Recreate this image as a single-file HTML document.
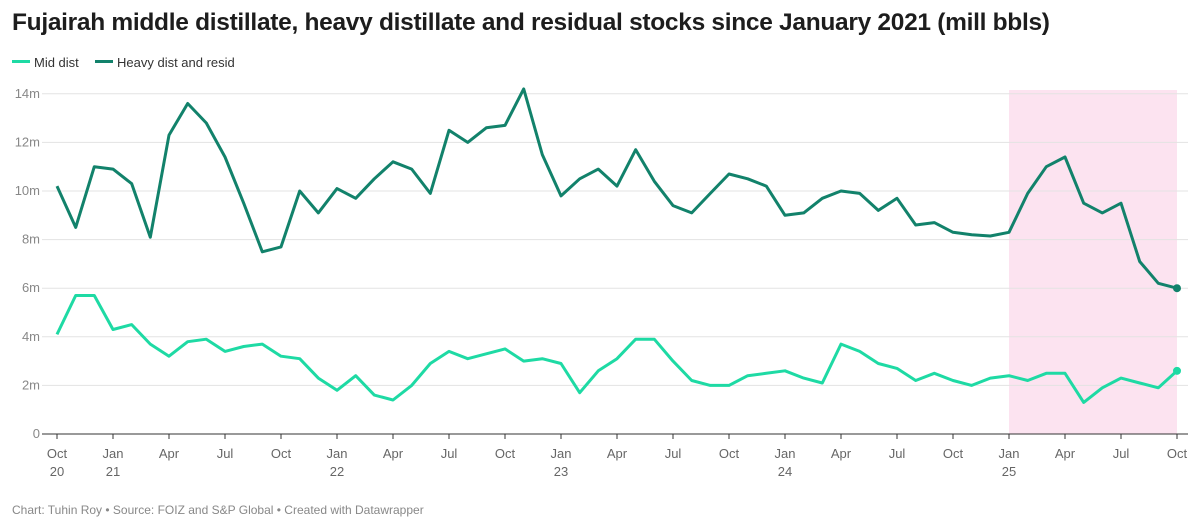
<!DOCTYPE html>
<html><head><meta charset="utf-8"><style>
body{margin:0;background:#fff;font-family:"Liberation Sans",Arial,sans-serif;}
#w{position:relative;width:1200px;height:530px;overflow:hidden}
.t{position:absolute;left:12px;top:9px;font-size:24.5px;font-weight:bold;color:#1d1d1d;letter-spacing:-0.3px}
.f{position:absolute;left:12px;top:503px;font-size:12px;color:#888}
</style></head><body><div id="w">
<div class="t">Fujairah middle distillate, heavy distillate and residual stocks since January 2021 (mill bbls)</div>
<svg id="s" width="1200" height="530" style="position:absolute;left:0;top:0"></svg>
<div class="f">Chart: Tuhin Roy • Source: FOIZ and S&amp;P Global • Created with Datawrapper</div>
</div>
<script>
var H=[10.2,8.5,11.0,10.9,10.3,8.1,12.3,13.6,12.8,11.4,9.5,7.5,7.7,10.0,9.1,10.1,9.7,10.5,11.2,10.9,9.9,12.5,12.0,12.6,12.7,14.2,11.5,9.8,10.5,10.9,10.2,11.7,10.4,9.4,9.1,9.9,10.7,10.5,10.2,9.0,9.1,9.7,10.0,9.9,9.2,9.7,8.6,8.7,8.3,8.2,8.15,8.3,9.9,11.0,11.4,9.5,9.1,9.5,7.1,6.2,6.0];
var M=[4.1,5.7,5.7,4.3,4.5,3.7,3.2,3.8,3.9,3.4,3.6,3.7,3.2,3.1,2.3,1.8,2.4,1.6,1.4,2.0,2.9,3.4,3.1,3.3,3.5,3.0,3.1,2.9,1.7,2.6,3.1,3.9,3.9,3.0,2.2,2.0,2.0,2.4,2.5,2.6,2.3,2.1,3.7,3.4,2.9,2.7,2.2,2.5,2.2,2.0,2.3,2.4,2.2,2.5,2.5,1.3,1.9,2.3,2.1,1.9,2.6];
function X(i){return 57+i*1120/60}function Y(v){return 434-v*24.3}
var s='<rect x="1009" y="90" width="168" height="344" fill="#fce3f0"/>';
for(var k=1;k<=7;k++){var y=Y(2*k);s+='<line x1="42" x2="1188" y1="'+y+'" y2="'+y+'" stroke="#e3e3e3"/>';s+='<text x="40" y="'+(y+4)+'" font-size="13" fill="#888" text-anchor="end">'+(2*k)+'m</text>';}
s+='<text x="40" y="438" font-size="13" fill="#888" text-anchor="end">0</text>';
s+='<line x1="42" x2="1188" y1="434" y2="434" stroke="#333"/>';
var lab=['Oct','Jan','Apr','Jul'];
for(var i=0;i<=60;i+=3){var x=X(i);s+='<line x1="'+x+'" x2="'+x+'" y1="434" y2="439" stroke="#333"/>';var m=lab[(i/3)%4];s+='<text x="'+x+'" y="458" font-size="13" fill="#666" text-anchor="middle">'+m+'</text>';
if(i==0)s+='<text x="'+x+'" y="476" font-size="13" fill="#666" text-anchor="middle">20</text>';
if(m=='Jan')s+='<text x="'+x+'" y="476" font-size="13" fill="#666" text-anchor="middle">'+(21+(i-3)/12)+'</text>';}
function P(a,c){var p=a.map(function(v,i){return X(i).toFixed(1)+','+Y(v).toFixed(1)}).join(' ');return '<polyline points="'+p+'" fill="none" stroke="'+c+'" stroke-width="3" stroke-linejoin="round"/><circle cx="'+X(60)+'" cy="'+Y(a[60])+'" r="4" fill="'+c+'"/>';}
s+=P(H,'#12826b')+P(M,'#1edaa4');
s+='<rect x="12" y="60" width="18" height="3" fill="#1edaa4"/><text x="34" y="67" font-size="13" fill="#333">Mid dist</text>';
s+='<rect x="95" y="60" width="18" height="3" fill="#12826b"/><text x="117" y="67" font-size="13" fill="#333">Heavy dist and resid</text>';
document.getElementById('s').innerHTML=s;
</script></body></html>
